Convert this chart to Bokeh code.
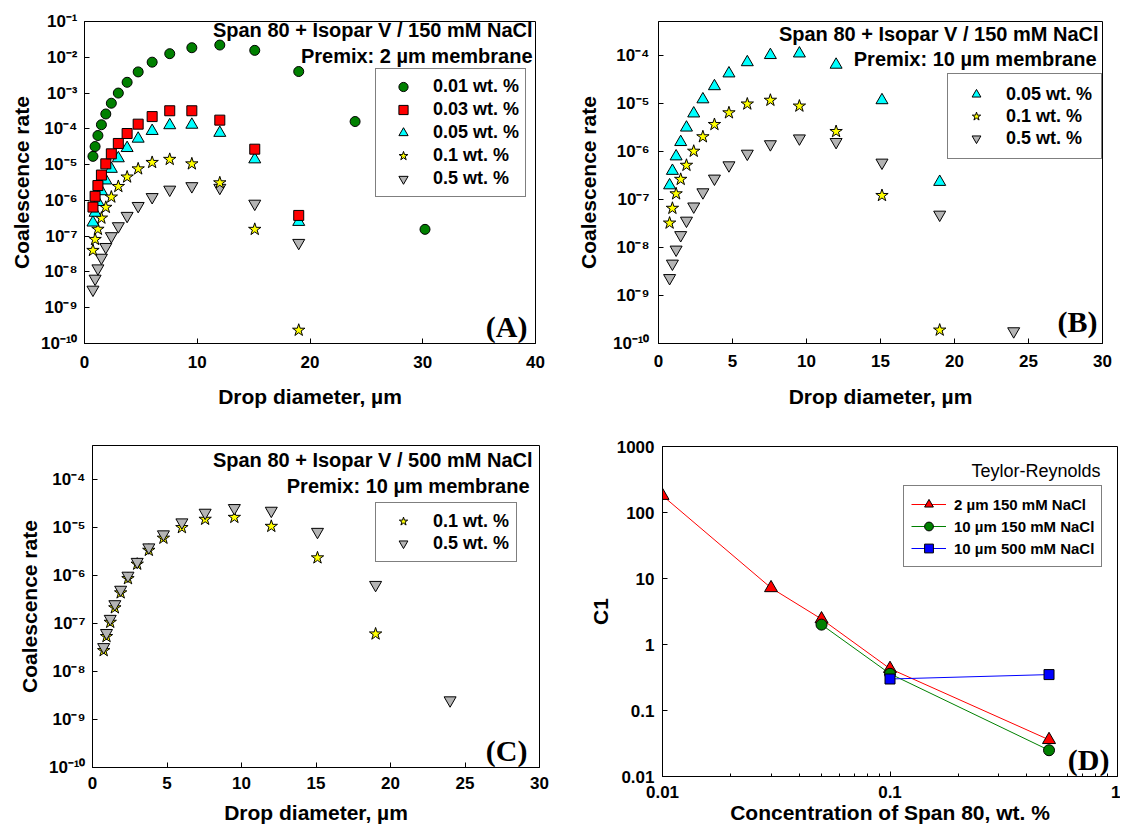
from bokeh.plotting import figure
from bokeh.models import Range1d, FixedTicker, Legend, LegendItem, Label
from bokeh.layouts import column, row
from bokeh.embed import file_html
from bokeh.resources import INLINE

# ---------------- data ----------------
# Panel A: Span 80 + Isopar V / 150 mM NaCl, premix 2 um membrane
d_A_001 = [0.75, 0.94, 1.19, 1.5, 1.89, 2.38, 3.0, 3.78, 4.76, 6.0, 7.56, 9.52, 12.0, 15.1, 19.0, 24.0, 30.2]
rate_A_001 = [1.7e-5, 3.2e-5, 6.5e-5, 1.3e-4, 2.6e-4, 5.2e-4, 1.0e-3, 2.0e-3, 3.9e-3, 7.3e-3,
              1.26e-2, 1.85e-2, 2.2e-2, 1.56e-2, 4.0e-3, 1.6e-4, 1.55e-7]
d_A = [0.75, 0.94, 1.19, 1.5, 1.89, 2.38, 3.0, 3.78, 4.76, 6.0, 7.56, 9.52, 12.0, 15.1, 19.0]
rate_A_003 = [6.5e-7, 1.3e-6, 2.6e-6, 5.1e-6, 1.05e-5, 2.0e-5, 3.9e-5, 7.4e-5, 1.35e-4, 2.2e-4,
              3.2e-4, 3.2e-4, 1.75e-4, 2.7e-5, 3.8e-7]
rate_A_005 = [2.4e-7, 4.5e-7, 9.0e-7, 1.8e-6, 3.6e-6, 7.6e-6, 1.5e-5, 2.9e-5, 5.3e-5, 8.7e-5,
              1.26e-4, 1.3e-4, 7.7e-5, 1.4e-5, 2.5e-7]
rate_A_01 = [4.0e-8, 8.1e-8, 1.56e-7, 3.2e-7, 6.4e-7, 1.24e-6, 2.45e-6, 4.5e-6, 7.6e-6, 1.15e-5,
             1.4e-5, 1.05e-5, 3.1e-6, 1.55e-7, 2.35e-10]
rate_A_05 = [3.2e-9, 6.5e-9, 1.26e-8, 2.5e-8, 5.0e-8, 1.0e-7, 1.9e-7, 3.7e-7, 7.0e-7, 1.24e-6,
             2.0e-6, 2.5e-6, 2.25e-6, 8.1e-7, 6.5e-8]

# Panel B: Span 80 + Isopar V / 150 mM NaCl, premix 10 um membrane
d_B = [0.75, 0.94, 1.19, 1.5, 1.89, 2.38, 3.0, 3.78, 4.76, 6.0, 7.56, 9.52, 12.0, 15.1, 19.0]
d_B_05 = [0.75, 0.94, 1.19, 1.5, 1.89, 2.38, 3.0, 3.78, 4.76, 6.0, 7.56, 9.52, 12.0, 15.1, 19.0, 24.0]
rate_B_005 = [1.95e-7, 3.9e-7, 7.8e-7, 1.55e-6, 3.1e-6, 6.1e-6, 1.2e-5, 2.25e-5, 4.15e-5, 7.1e-5,
              1.0e-4, 1.08e-4, 6.3e-5, 1.15e-5, 2.3e-7]
rate_B_01 = [3.2e-8, 6.5e-8, 1.3e-7, 2.6e-7, 5.1e-7, 1.0e-6, 2.0e-6, 3.6e-6, 6.3e-6, 9.6e-6,
             1.15e-5, 8.7e-6, 2.57e-6, 1.2e-7, 1.9e-10]
rate_B_05 = [2.3e-9, 4.6e-9, 9.0e-9, 1.8e-8, 3.6e-8, 7.1e-8, 1.4e-7, 2.7e-7, 5.1e-7, 8.9e-7,
             1.4e-6, 1.85e-6, 1.56e-6, 5.8e-7, 4.8e-8, 1.8e-10]

# Panel C: Span 80 + Isopar V / 500 mM NaCl, premix 10 um membrane
d_C_01 = [0.75, 0.94, 1.19, 1.5, 1.89, 2.38, 3.0, 3.78, 4.76, 6.0, 7.56, 9.52, 12.0, 15.1, 19.0]
d_C_05 = [0.75, 0.94, 1.19, 1.5, 1.89, 2.38, 3.0, 3.78, 4.76, 6.0, 7.56, 9.52, 12.0, 15.1, 19.0, 24.0]
rate_C_01 = [2.7e-8, 5.3e-8, 1.05e-7, 2.1e-7, 4.3e-7, 8.5e-7, 1.7e-6, 3.3e-6, 5.9e-6, 9.8e-6,
             1.46e-5, 1.6e-5, 1.04e-5, 2.3e-6, 6.0e-8]
rate_C_05 = [3.2e-8, 6.3e-8, 1.24e-7, 2.5e-7, 5.0e-7, 9.8e-7, 1.9e-6, 3.8e-6, 7.1e-6, 1.26e-5,
             2.0e-5, 2.5e-5, 2.2e-5, 8.0e-6, 6.3e-7, 2.5e-9]

# Panel D: C1 vs Span 80 concentration (Teylor-Reynolds)
conc_2um_150 = [0.01, 0.03, 0.05, 0.1, 0.5]
c1_2um_150 = [180, 7.2, 2.43, 0.43, 0.036]
conc_10um_150 = [0.05, 0.1, 0.5]
c1_10um_150 = [2.0, 0.36, 0.025]
conc_10um_500 = [0.1, 0.5]
c1_10um_500 = [0.30, 0.35]

# tick labels
rate_ticks = [1e-10, 1e-9, 1e-8, 1e-7, 1e-6, 1e-5, 1e-4, 1e-3, 1e-2, 1e-1]
rate_tick_labels = ["10⁻¹⁰", "10⁻⁹", "10⁻⁸", "10⁻⁷", "10⁻⁶", "10⁻⁵", "10⁻⁴", "10⁻³", "10⁻²", "10⁻¹"]
x_ticks_A = [0, 10, 20, 30, 40]
x_ticks_BC = [0, 5, 10, 15, 20, 25, 30]
c1_ticks = [0.01, 0.1, 1, 10, 100, 1000]
c1_tick_labels = ["0.01", "0.1", "1", "10", "100", "1000"]
conc_ticks = [0.01, 0.1, 1]
conc_tick_labels = ["0.01", "0.1", "1"]
conc_minor_ticks = [0.02, 0.03, 0.04, 0.05, 0.06, 0.07, 0.08, 0.09,
                    0.2, 0.3, 0.4, 0.5, 0.6, 0.7, 0.8, 0.9]

SANS = "Liberation Sans"
SERIF = "Liberation Serif"
GREEN = "#008000"
RED = "#FF0000"
CYAN = "#00FFFF"
YELLOW = "#FFFF00"
GRAY = "#B4B4B4"
BLUE = "#0000FF"


def make_fig(width, height, left, right, top, bottom, xr, yr, x_type="linear", y_type="linear"):
    p = figure(width=width, height=height, x_range=Range1d(*xr), y_range=Range1d(*yr),
               x_axis_type=x_type, y_axis_type=y_type, output_backend="svg",
               toolbar_location=None, min_border_left=left, min_border_right=right,
               min_border_top=top, min_border_bottom=bottom)
    p.outline_line_color = "black"
    p.outline_line_width = 1
    p.outline_line_alpha = 1
    p.grid.visible = False
    p.background_fill_color = "white"
    p.border_fill_color = "white"
    for ax in p.axis:
        ax.major_tick_in = 5
        ax.major_tick_out = 0
        ax.minor_tick_in = 0
        ax.minor_tick_out = 0
        ax.axis_line_color = "black"
        ax.major_tick_line_color = "black"
        ax.major_label_text_font = SANS
        ax.major_label_text_font_style = "bold"
        ax.major_label_text_font_size = "17px"
        ax.major_label_text_color = "black"
        ax.axis_label_text_font = SANS
        ax.axis_label_text_font_style = "bold"
        ax.axis_label_text_font_size = "21px"
        ax.axis_label_text_color = "black"
    return p


def rate_axes(p, xticks, xlab_standoff, xtitle_standoff, ylab_standoff, ytitle_standoff):
    p.yaxis.ticker = FixedTicker(ticks=rate_ticks)
    p.yaxis.major_label_overrides = dict(zip(rate_ticks, rate_tick_labels))
    p.xaxis.ticker = FixedTicker(ticks=xticks)
    p.xaxis.axis_label = "Drop diameter, µm"
    p.yaxis.axis_label = "Coalescence rate"
    p.xaxis.major_label_standoff = xlab_standoff
    p.xaxis.axis_label_standoff = xtitle_standoff
    p.yaxis.major_label_standoff = ylab_standoff
    p.yaxis.axis_label_standoff = ytitle_standoff


def add_text(p, x, y, text, size="20px", font=SANS, style="bold"):
    p.add_layout(Label(x=x, y=y, x_units="screen", y_units="screen", text=text,
                       text_align="right", text_baseline="alphabetic", text_font=font,
                       text_font_style=style, text_font_size=size, text_color="black"))


def make_legend(items, loc, padding, item_h, glyph_w, standoff, size="18px"):
    return Legend(items=items, location=loc, padding=padding, label_height=item_h,
                  glyph_height=item_h, spacing=0, glyph_width=glyph_w,
                  label_standoff=standoff, margin=0, border_line_color="black",
                  border_line_width=1, background_fill_color="white", background_fill_alpha=1,
                  label_text_font=SANS, label_text_font_style="bold",
                  label_text_font_size=size, label_text_color="black")


MK = dict(line_color="black", line_width=1)

# ---------------- Panel A ----------------
pA = make_fig(560, 420, 84, 25, 20, 76, (0, 40), (1e-10, 1e-1), y_type="log")
rate_axes(pA, x_ticks_A, 12, 14, 7, 5)
rA5 = pA.scatter(d_A, rate_A_05, marker="inverted_triangle", size=12, fill_color=GRAY, **MK)
rA4 = pA.scatter(d_A, rate_A_01, marker="star", size=13, fill_color=YELLOW, **MK)
rA3 = pA.scatter(d_A, rate_A_005, marker="triangle", size=12, fill_color=CYAN, **MK)
rA2 = pA.scatter(d_A, rate_A_003, marker="square", size=10, fill_color=RED, **MK)
rA1 = pA.scatter(d_A_001, rate_A_001, marker="circle", size=10, fill_color=GREEN, **MK)
pA.add_layout(make_legend([
    LegendItem(label="0.01 wt. %", renderers=[rA1]),
    LegendItem(label="0.03 wt. %", renderers=[rA2]),
    LegendItem(label="0.05 wt. %", renderers=[rA3]),
    LegendItem(label="0.1 wt. %", renderers=[rA4]),
    LegendItem(label="0.5 wt. %", renderers=[rA5]),
], (291, 146), 6, 23, 42, 9))
add_text(pA, 448, 314, "Span 80 + Isopar V / 150 mM NaCl")
add_text(pA, 448, 288, "Premix: 2 µm membrane")
add_text(pA, 443, 17, "(A)", size="30px", font=SERIF)

# ---------------- Panel B ----------------
pB = make_fig(560, 420, 98, 18, 21, 77, (0, 30), (1e-10, 5e-4), y_type="log")
rate_axes(pB, x_ticks_BC, 11, 15, 9, 10)
rB3 = pB.scatter(d_B_05, rate_B_05, marker="inverted_triangle", size=12, fill_color=GRAY, **MK)
rB2 = pB.scatter(d_B, rate_B_01, marker="star", size=13, fill_color=YELLOW, **MK)
rB1 = pB.scatter(d_B, rate_B_005, marker="triangle", size=12, fill_color=CYAN, **MK)
pB.add_layout(make_legend([
    LegendItem(label="0.05 wt. %", renderers=[rB1]),
    LegendItem(label="0.1 wt. %", renderers=[rB2]),
    LegendItem(label="0.5 wt. %", renderers=[rB3]),
], (289, 184), 9, 22, 38, 11))
add_text(pB, 440, 310, "Span 80 + Isopar V / 150 mM NaCl")
add_text(pB, 438, 285, "Premix: 10 µm membrane")
add_text(pB, 439, 22, "(B)", size="30px", font=SERIF)

# ---------------- Panel C ----------------
pC = make_fig(560, 411, 92, 21, 25, 64, (0, 30), (1e-10, 5e-4), y_type="log")
rate_axes(pC, x_ticks_BC, 9, 9, 7, 5)
rC1 = pC.scatter(d_C_01, rate_C_01, marker="star", size=13, fill_color=YELLOW, **MK)
rC2 = pC.scatter(d_C_05, rate_C_05, marker="inverted_triangle", size=12, fill_color=GRAY, **MK)
pC.add_layout(make_legend([
    LegendItem(label="0.1 wt. %", renderers=[rC1]),
    LegendItem(label="0.5 wt. %", renderers=[rC2]),
], (283, 205), 7, 22, 40, 10))
add_text(pC, 440, 308, "Span 80 + Isopar V / 500 mM NaCl")
add_text(pC, 437, 282, "Premix: 10 µm membrane")
add_text(pC, 435, 17, "(C)", size="30px", font=SERIF)

# ---------------- Panel D ----------------
pD = make_fig(560, 411, 102, 3, 26, 55, (0.01, 1), (0.01, 1000), x_type="log", y_type="log")
pD.xaxis.ticker = FixedTicker(ticks=conc_ticks, minor_ticks=conc_minor_ticks)
pD.xaxis.major_label_overrides = dict(zip(conc_ticks, conc_tick_labels))
pD.xaxis.minor_tick_in = 3
pD.xaxis.minor_tick_line_color = "black"
pD.yaxis.ticker = FixedTicker(ticks=c1_ticks)
pD.yaxis.major_label_overrides = dict(zip(c1_ticks, c1_tick_labels))
pD.xaxis.axis_label = "Concentration of Span 80, wt. %"
pD.yaxis.axis_label = "C1"
pD.xaxis.major_label_standoff = 9
pD.xaxis.axis_label_standoff = 0
pD.yaxis.major_label_standoff = 8
pD.yaxis.axis_label_standoff = 2
lr = pD.line(conc_2um_150, c1_2um_150, line_color=RED, line_width=1)
sr = pD.scatter(conc_2um_150, c1_2um_150, marker="triangle", size=13, fill_color=RED, **MK)
lg = pD.line(conc_10um_150, c1_10um_150, line_color=GREEN, line_width=1)
sg = pD.scatter(conc_10um_150, c1_10um_150, marker="circle", size=11, fill_color=GREEN, **MK)
lb = pD.line(conc_10um_500, c1_10um_500, line_color=BLUE, line_width=1)
sb = pD.scatter(conc_10um_500, c1_10um_500, marker="square", size=10, fill_color=BLUE, **MK)
pD.add_layout(make_legend([
    LegendItem(label="2 µm 150 mM NaCl", renderers=[lr, sr]),
    LegendItem(label="10 µm 150 mM NaCl", renderers=[lg, sg]),
    LegendItem(label="10 µm 500 mM NaCl", renderers=[lb, sb]),
], (241, 209), 7, 22, 35, 8, size="15px"))
add_text(pD, 438, 306, "Teylor-Reynolds", size="18px", style="normal")
add_text(pD, 447, 17, "(D)", size="30px", font=SERIF)

layout = column(row(pA, pB), row(pC, column(pD)))
open("out.html", "w").write(file_html(layout, INLINE))
